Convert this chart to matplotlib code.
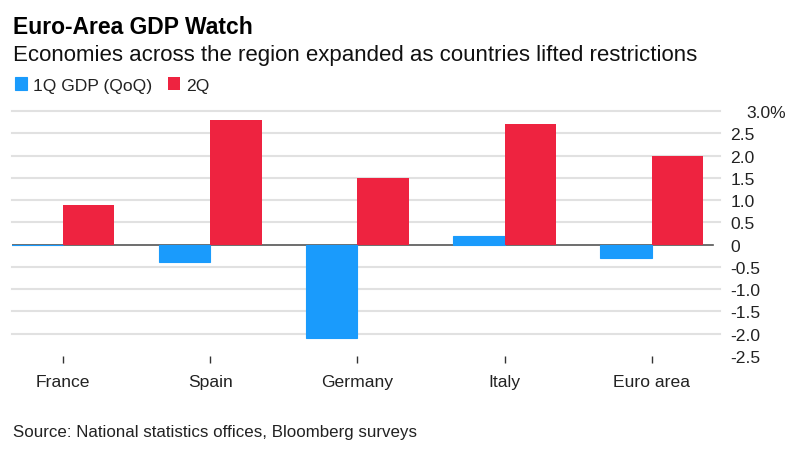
import matplotlib
matplotlib.use("Agg")
import matplotlib.pyplot as plt
import matplotlib.transforms as mtrans
import numpy as np

plt.rcParams['font.family'] = ['Liberation Sans', 'DejaVu Sans']

# Datos
paises = ["France", "Spain", "Germany", "Italy", "Euro area"]
q1 = [0.0, -0.4, -2.1, 0.2, -0.3]
q2 = [0.9, 2.8, 1.5, 2.7, 2.0]
y_ticks = [-2.5, -2.0, -1.5, -1.0, -0.5, 0, 0.5, 1.0, 1.5, 2.0, 2.5, 3.0]
y_labels = ["-2.5", "-2.0", "-1.5", "-1.0", "-0.5", "0", "0.5", "1.0", "1.5", "2.0", "2.5", "3.0%"]

AZUL = "#1a9bfc"
ROJO = "#ee2340"
GRIS = "#e1e1e1"

fig = plt.figure(figsize=(7.97, 4.6), dpi=100)

# Ejes colocados en pixeles de la imagen
W, H = 797, 460
ax = fig.add_axes([12/W, 1 - 357/H, (720 - 12)/W, (357 - 112)/H])

x = np.arange(len(paises))
ancho = 0.35

# Rejilla, sin la linea de -2.5
for v in y_ticks[1:]:
    if v != 0:
        ax.axhline(v, color=GRIS, linewidth=1.5, zorder=1, clip_on=False)

ax.axhline(0, xmax=0.99, color="#555555", linewidth=1.2, zorder=2)

b1 = ax.bar(x - ancho/2, q1, ancho, color=AZUL, edgecolor=AZUL, linewidth=0.8, zorder=3, label="1Q GDP (QoQ)")
b2 = ax.bar(x + ancho/2, q2, ancho, color=ROJO, linewidth=0, zorder=4, label="2Q")

ax.set_xlim(-0.346, 4.463)
ax.set_ylim(-2.5, 3.0)

ax.set_xticks(x)
ax.set_xticklabels(paises, fontsize=12.6, color="#222222")
ax.tick_params(axis='x', length=5, width=1, color="#333333", pad=8)

ax.yaxis.tick_right()
ax.set_yticks(y_ticks)
ax.set_yticklabels(y_labels, fontsize=12.6, color="#222222", ha='left')
ax.tick_params(axis='y', length=0, pad=7.5)

# El 3.0% va corrido a la derecha
etiqueta = ax.get_yticklabels()[-1]
etiqueta.set_transform(etiqueta.get_transform() + mtrans.ScaledTranslation(16/100, 0, fig.dpi_scale_trans))

for lado in ax.spines.values():
    lado.set_visible(False)

# Textos
fig.text(13/W, 1 - 27/H, "Euro-Area GDP Watch", fontsize=16.5, fontweight='bold', color="black", va='center')
fig.text(13/W, 1 - 56/H, "Economies across the region expanded as countries lifted restrictions", fontsize=16, color="#111111", va='center')
fig.text(13/W, 1 - 433/H, "Source: National statistics offices, Bloomberg surveys", fontsize=12.15, color="#222222", va='center')

fig.legend(handles=[b1, b2], loc='center left', bbox_to_anchor=(15/W, 1 - 86/H), ncol=2, frameon=False,
           fontsize=12.6, handlelength=0.7, handleheight=0.7, handletextpad=0.35, columnspacing=0.87,
           borderpad=0, borderaxespad=0, labelcolor="#222222")

fig.savefig("out.png", dpi=100)
